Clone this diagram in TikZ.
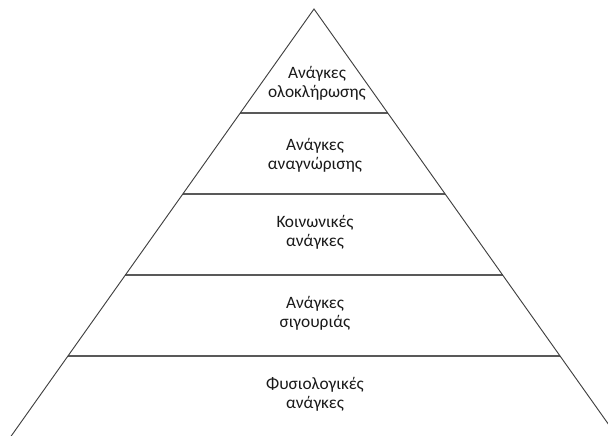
\documentclass[tikz,border=0pt]{standalone}
\usepackage{fontspec}
\setmainfont{Carlito}
\usetikzlibrary{calc}
\begin{document}
\begin{tikzpicture}[x=0.75pt,y=-0.75pt,
  edge/.style={draw=black!75,line width=0.7pt},
  level/.style={draw=black!65,line width=1.1pt},
  lbl/.style={align=center,font=\fontsize{13}{14.5}\selectfont,text=black!90,inner sep=0pt}]
\useasboundingbox (0,0) rectangle (608,436);
\clip (0,0) rectangle (608,436);
\coordinate (apex) at (314,9);
\coordinate (bl) at (10.5,437);
\coordinate (br) at (617.5,437);
\foreach \t/\n in {0.243/a,0.432/b,0.6215/c,0.8107/d}{
  \coordinate (l\n) at ($(apex)!\t!(bl)$);
  \coordinate (r\n) at ($(apex)!\t!(br)$);
  \draw[level] (l\n) -- (r\n);
}
\draw[edge] (bl) -- (apex) -- (br);
\node[lbl] (n1) at (317,83) {Ανάγκες\\ολοκλήρωσης};
\node[lbl] (n2) at (315,155) {Ανάγκες\\αναγνώρισης};
\node[lbl] (n3) at (315,232) {Κοινωνικές\\ανάγκες};
\node[lbl] (n4) at (315,313) {Ανάγκες\\σιγουριάς};
\node[lbl] (n5) at (315,394) {Φυσιολογικές\\ανάγκες};
\end{tikzpicture}
\end{document}
